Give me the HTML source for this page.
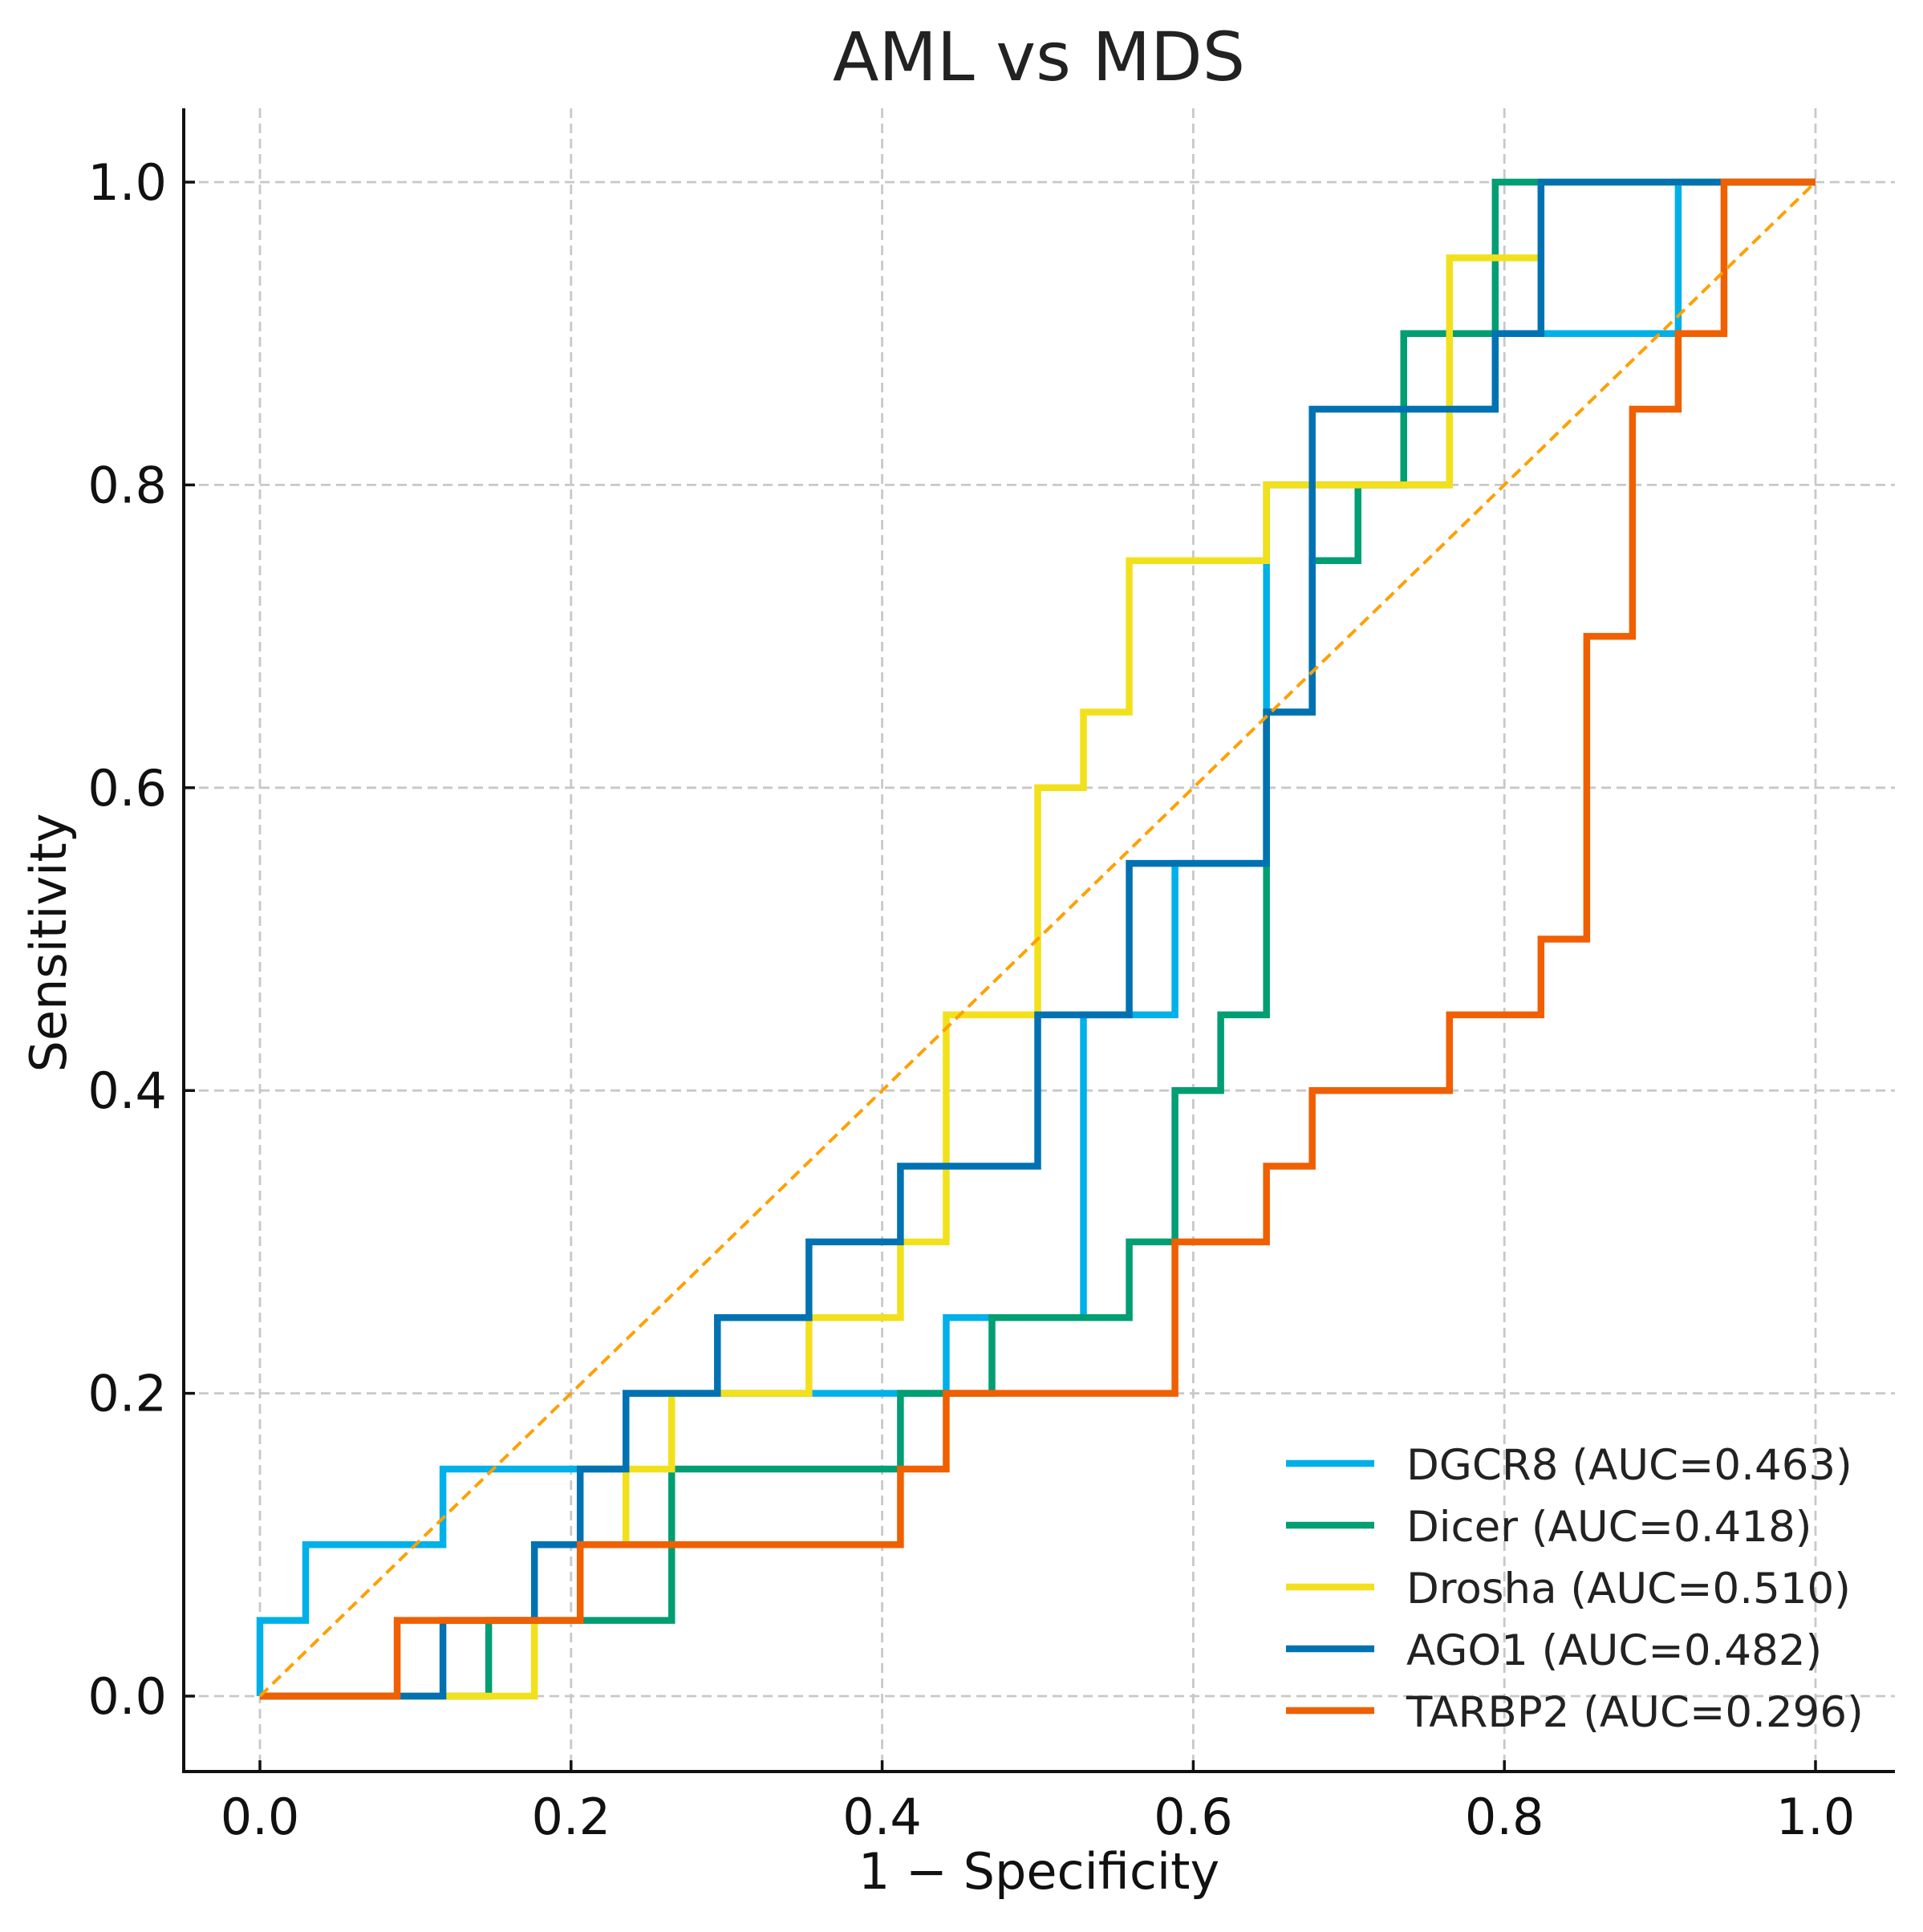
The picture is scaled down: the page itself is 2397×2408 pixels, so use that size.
<!DOCTYPE html>
<html><head><meta charset="utf-8"><style>
html,body{margin:0;padding:0;background:#fff;}
svg{display:block;font-family:"DejaVu Sans","Liberation Sans",sans-serif;}
</style></head><body>
<svg id="chart" width="2397" height="2408" viewBox="0 0 2397 2408">
<text x="1295" y="100" font-size="84" text-anchor="middle" fill="#222">AML vs MDS</text>
<g id="grid"></g>
<g id="series"></g>
<g id="axes"></g>
<text x="1295" y="2354" font-size="62" text-anchor="middle" fill="#111">1 − Specificity</text>
<text transform="translate(82,1175) rotate(-90)" font-size="62" text-anchor="middle" fill="#111">Sensitivity</text>
<g id="legend"></g>
</svg>
<script>
const xTicks=[0,0.2,0.4,0.6,0.8,1.0];
const yTicks=[0,0.2,0.4,0.6,0.8,1.0];
const tickLabels=["0.0","0.2","0.4","0.6","0.8","1.0"];
const seriesNames=["DGCR8 (AUC=0.463)","Dicer (AUC=0.418)","Drosha (AUC=0.510)","AGO1 (AUC=0.482)","TARBP2 (AUC=0.296)"];
const seriesColors=["#00b0e8","#009e73","#f2e01c","#0072b2","#f05f00"];
const nNeg=34;
const dgcr8=[[0,0],[0,.05],[1,.05],[1,.10],[4,.10],[4,.15],[8,.15],[8,.20],[15,.20],[15,.25],[18,.25],[18,.45],[20,.45],[20,.55],[22,.55],[22,.80],[26,.80],[26,.85],[27,.85],[27,.90],[31,.90],[31,1],[34,1]];
const dicer=[[0,0],[5,0],[5,.05],[9,.05],[9,.15],[14,.15],[14,.20],[16,.20],[16,.25],[19,.25],[19,.30],[20,.30],[20,.40],[21,.40],[21,.45],[22,.45],[22,.65],[23,.65],[23,.75],[24,.75],[24,.80],[25,.80],[25,.90],[27,.90],[27,1],[34,1]];
const drosha=[[0,0],[6,0],[6,.10],[8,.10],[8,.15],[9,.15],[9,.20],[12,.20],[12,.25],[14,.25],[14,.30],[15,.30],[15,.45],[17,.45],[17,.60],[18,.60],[18,.65],[19,.65],[19,.75],[22,.75],[22,.80],[26,.80],[26,.95],[28,.95],[28,1],[34,1]];
const ago1=[[0,0],[4,0],[4,.05],[6,.05],[6,.10],[7,.10],[7,.15],[8,.15],[8,.20],[10,.20],[10,.25],[12,.25],[12,.30],[14,.30],[14,.35],[17,.35],[17,.45],[19,.45],[19,.55],[22,.55],[22,.65],[23,.65],[23,.85],[27,.85],[27,.90],[28,.90],[28,1],[34,1]];
const tarbp2=[[0,0],[3,0],[3,.05],[7,.05],[7,.10],[14,.10],[14,.15],[15,.15],[15,.20],[20,.20],[20,.30],[22,.30],[22,.35],[23,.35],[23,.40],[26,.40],[26,.45],[28,.45],[28,.50],[29,.50],[29,.70],[30,.70],[30,.85],[31,.85],[31,.90],[32,.90],[32,1],[34,1]];
const allSeries=[dgcr8,dicer,drosha,ago1,tarbp2];

const NS="http://www.w3.org/2000/svg";
const X0=324,X1=2263,Y0=2114,Y1=227,AL=229,AR=2362,AT=135,AB=2208;
const sx=v=>X0+(X1-X0)*v, sy=v=>Y0-(Y0-Y1)*v;
function mk(tag,attrs,parent){const e=document.createElementNS(NS,tag);for(const k in attrs)e.setAttribute(k,attrs[k]);parent.appendChild(e);return e;}
const grid=document.getElementById('grid'),axes=document.getElementById('axes'),ser=document.getElementById('series'),leg=document.getElementById('legend');
xTicks.forEach((t,i)=>{
 const g=mk('line',{x1:sx(t),x2:sx(t),y1:AT,y2:AB,stroke:'#c8c8c8','stroke-width':2.8,'stroke-dasharray':'12 7'},grid);
 
 
 const tk=mk('line',{x1:sx(t),x2:sx(t),y1:AB,y2:AB-14,stroke:'#111','stroke-width':3.5},axes);
 
 
 const tl=mk('text',{x:sx(t),y:AB+78,'font-size':62,'text-anchor':'middle',fill:'#111'},axes);
 tl.textContent=tickLabels[i];
 
 
});
yTicks.forEach((t,i)=>{
 const g=mk('line',{x1:AL,x2:AR,y1:sy(t),y2:sy(t),stroke:'#c8c8c8','stroke-width':2.8,'stroke-dasharray':'12 7'},grid);
 
 
 const tk=mk('line',{x1:AL,x2:AL+14,y1:sy(t),y2:sy(t),stroke:'#111','stroke-width':3.5},axes);
 
 
 const tl=mk('text',{x:208,y:sy(t)+22,'font-size':62,'text-anchor':'end',fill:'#111'},axes);
 tl.textContent=tickLabels[i];
 
 
});
const sp1=mk('line',{x1:AL,x2:AL,y1:AT,y2:AB+2,stroke:'#111','stroke-width':4},axes);


const sp2=mk('line',{x1:AL,x2:AR,y1:AB,y2:AB,stroke:'#111','stroke-width':4},axes);


allSeries.forEach((pts,i)=>{
 const p=mk('polyline',{points:pts.map(q=>sx(q[0]/nNeg)+','+sy(q[1])).join(' '),fill:'none',stroke:seriesColors[i],'stroke-width':8.5,'stroke-linejoin':'miter'},ser);
 
 
});
const d=mk('line',{x1:sx(0),y1:sy(0),x2:sx(1),y2:sy(1),stroke:'#ffa000','stroke-width':4,'stroke-dasharray':'14 8'},ser);


seriesNames.forEach((n,i)=>{
 const y=1824+i*77;
 const l=mk('line',{x1:1603,x2:1713,y1:y,y2:y,stroke:seriesColors[i],'stroke-width':8.5},leg);
 
 
 const t=mk('text',{x:1753,y:y+20,'font-size':53,fill:'#222'},leg);
 t.textContent=n;
 
 
});
</script>
</body></html>
